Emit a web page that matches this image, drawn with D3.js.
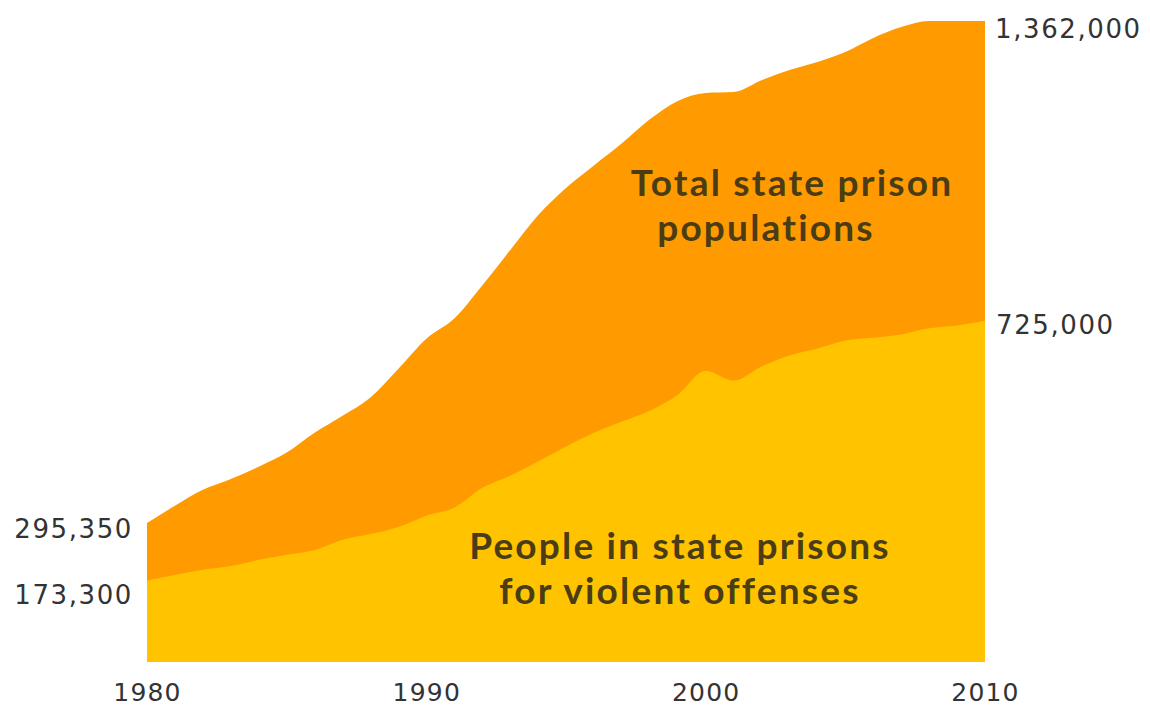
<!DOCTYPE html>
<html>
<head>
<meta charset="utf-8">
<script src="https://cdn.jsdelivr.net/npm/d3@7"></script>
<style>
  html, body { margin: 0; padding: 0; background: #ffffff; }
  svg { display: block; }
</style>
</head>
<body>
<svg id="chart" width="1150" height="709"></svg>
<script>
// State prison populations, 1980–2010
const years = d3.range(1980, 2011);

const totalPopulation = [
  295350, 332000, 366000, 389000, 415000, 445000, 487000, 523000, 562000, 623000,
  687000, 730000, 800000, 875000, 949000, 1007000, 1055000, 1102000, 1153000, 1192000,
  1209000, 1211000, 1236000, 1258000, 1275000, 1296000, 1326000, 1349000, 1362000, 1362000,
  1362000
];

const violentOffenses = [
  173300, 185000, 196000, 204000, 217000, 228000, 238000, 260000, 272000, 287000,
  311000, 328000, 370000, 396000, 426000, 458000, 487000, 511000, 534000, 568000,
  619000, 598000, 628000, 651000, 666000, 683000, 689000, 696000, 709000, 715000,
  725000
];

const yearTicks = [1980, 1990, 2000, 2010];
const startLabels = ["295,350", "173,300"];
const endLabels = ["1,362,000", "725,000"];

const svg = d3.select("#chart");

const x = d3.scaleLinear().domain([1980, 2010]).range([147, 985]);
const y = d3.scaleLinear().domain([0, 1362000]).range([662, 21]);

const rows = years.map((yr, i) => ({ year: yr, total: totalPopulation[i], violent: violentOffenses[i] }));

const area = (key) => d3.area()
  .x(d => x(d.year))
  .y0(y(0))
  .y1(d => y(d[key]))
  .curve(d3.curveMonotoneX);

svg.append("path")
  .datum(rows)
  .attr("d", area("total"))
  .attr("fill", "#FF9A00");

svg.append("path")
  .datum(rows)
  .attr("d", area("violent"))
  .attr("fill", "#FFC300");

// Year axis
const xAxis = d3.axisBottom(x).tickValues(yearTicks).tickFormat(d3.format("d")).tickSize(0).tickPadding(0);
const gx = svg.append("g").attr("transform", "translate(0,683)").call(xAxis);
gx.select(".domain").remove();
gx.selectAll("text")
  .attr("dy", "0.72em")
  .attr("fill", "#333333")
  .style("font-family", "'DejaVu Sans', sans-serif")
  .style("font-size", "25px")
  .style("letter-spacing", "1.2px");

// Value labels at both ends of the series
const valueStyle = sel => sel
  .attr("fill", "#333333")
  .style("font-family", "'DejaVu Sans', sans-serif")
  .style("font-size", "26px")
  .style("letter-spacing", "1.6px");

svg.append("text").attr("x", 133).attr("y", y(totalPopulation[0]) + 6).attr("dy", "0.35em")
  .attr("text-anchor", "end").text(startLabels[0]).call(valueStyle);
svg.append("text").attr("x", 133).attr("y", y(violentOffenses[0]) + 14).attr("dy", "0.35em")
  .attr("text-anchor", "end").text(startLabels[1]).call(valueStyle);
svg.append("text").attr("x", 995).attr("y", y(totalPopulation[30]) + 8).attr("dy", "0.35em")
  .attr("text-anchor", "start").text(endLabels[0]).call(valueStyle);
svg.append("text").attr("x", 996).attr("y", y(violentOffenses[30]) + 4).attr("dy", "0.35em")
  .attr("text-anchor", "start").text(endLabels[1]).call(valueStyle);

// Series names inside the areas
const nameStyle = sel => sel
  .attr("fill", "#4a3d16")
  .attr("text-anchor", "middle")
  .style("font-family", "Lato, 'Noto Sans', sans-serif")
  .style("font-weight", "700")
  .style("font-size", "37px")
  .style("letter-spacing", "2.2px");

const totalName = svg.append("text").call(nameStyle);
totalName.append("tspan").attr("x", 792).attr("y", 196).text("Total state prison");
totalName.append("tspan").attr("x", 766).attr("y", 241).text("populations");

const violentName = svg.append("text").call(nameStyle);
violentName.append("tspan").attr("x", 680).attr("y", 559).text("People in state prisons");
violentName.append("tspan").attr("x", 680).attr("y", 604).text("for violent offenses");
</script>
</body>
</html>
